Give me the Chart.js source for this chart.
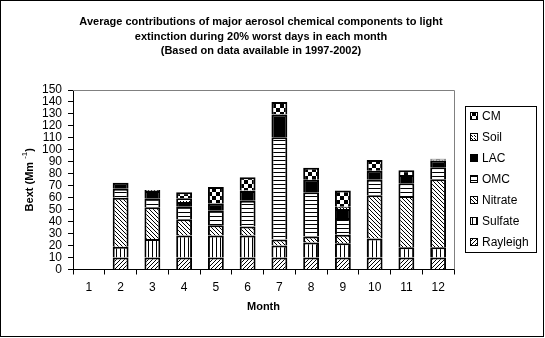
<!DOCTYPE html>
<html>
<head>
<meta charset="utf-8">
<script src="https://cdn.jsdelivr.net/npm/chart.js@4"></script>
<style>
html,body{margin:0;padding:0;background:#fff;}
#wrap{width:545px;height:338px;position:relative;}
</style>
</head>
<body>
<div id="wrap"><canvas id="c" width="545" height="338"></canvas></div>
<script>
const months = ['1','2','3','4','5','6','7','8','9','10','11','12'];
const rayleigh = [null,10,10,10,10,10,10,10,10,10,10,10];
const sulfate  = [null,9,15.5,18.5,18.5,18.5,10,12.5,12,16,8.5,8.5];
const nitrate  = [null,41,26.5,13.5,8.5,7.5,5,5,7,36,43,57];
const omc      = [null,7.5,7.5,10.5,12,21.5,85.5,37,14,13,10.5,10];
const lac      = [null,5,6,4,6,8,19,10.5,7.5,7.5,7,5.5];
const soil     = [null,0,1,3,0.5,0.5,0.5,0,2,0,0,1];
const cm       = [null,0,0,5,13.5,11,10,10,13.5,9,4,0.5];
const yTicks   = [0,10,20,30,40,50,60,70,80,90,100,110,120,130,140,150];
const titleLines = [
  'Average contributions of major aerosol chemical components to light',
  'extinction during 20% worst days in each month',
  '(Based on data available in 1997-2002)'
];

function makePattern(w, h, draw) {
  const c = document.createElement('canvas');
  c.width = w; c.height = h;
  const g = c.getContext('2d');
  g.fillStyle = '#fff'; g.fillRect(0, 0, w, h);
  g.fillStyle = '#000';
  draw(g, w, h);
  return g.createPattern(c, 'repeat');
}
const pRayleigh = makePattern(4, 4, (g) => { for (let i = 0; i < 4; i++) g.fillRect(i, 3 - i, 1, 1); });
const pNitrate  = makePattern(4, 4, (g) => { for (let i = 0; i < 4; i++) g.fillRect(i, i, 1, 1); });
const pSulfate  = makePattern(4, 1, (g) => { g.fillRect(0, 0, 1, 1); });
const pOMC      = makePattern(1, 4, (g) => { g.fillRect(0, 0, 1, 1); });
const pSoil     = makePattern(3, 3, (g) => { g.fillRect(1, 1, 1, 1); g.fillRect(0, 0, 1, 1); });
const pCM       = makePattern(8, 8, (g) => { g.fillRect(0, 0, 4, 4); g.fillRect(4, 4, 4, 4); });

function ds(label, data, bg) {
  return { label, data, backgroundColor: bg, borderColor: '#000', borderWidth: 2,
           borderSkipped: 'start', barPercentage: 0.5, categoryPercentage: 1 };
}

const FONT = '"Liberation Sans", Arial, sans-serif';

const decor = {
  id: 'decor',
  beforeDatasetsDraw(chart) {
    const { ctx, chartArea: a } = chart;
    ctx.save();
    ctx.strokeStyle = '#808080';
    ctx.lineWidth = 1;
    ctx.beginPath();
    ctx.moveTo(a.left, Math.round(a.top) + 0.5);
    ctx.lineTo(Math.round(a.right) + 0.5, Math.round(a.top) + 0.5);
    ctx.lineTo(Math.round(a.right) + 0.5, a.bottom);
    ctx.stroke();
    ctx.restore();
  },
  afterDraw(chart) {
    const { ctx, chartArea: a } = chart;
    ctx.save();
    // outer frame
    ctx.strokeStyle = '#000';
    ctx.lineWidth = 1;
    ctx.strokeRect(0.5, 0.5, 543, 336);
    // title
    ctx.fillStyle = '#000';
    ctx.font = 'bold 11px ' + FONT;
    ctx.textAlign = 'center';
    ctx.textBaseline = 'middle';
    titleLines.forEach((t, i) => ctx.fillText(t, 261, 22 + i * 14.5));
    // x title
    ctx.fillText('Month', (a.left + a.right) / 2, 307);
    // y title with superscript
    ctx.save();
    ctx.translate(30, (a.top + a.bottom) / 2);
    ctx.rotate(-Math.PI / 2);
    const main = 'Bext (Mm ';
    const sup = '-1';
    const end = ')';
    ctx.font = 'bold 11px ' + FONT;
    const wMain = ctx.measureText(main).width;
    const wEnd = ctx.measureText(end).width;
    ctx.font = '8px ' + FONT;
    const wSup = ctx.measureText(sup).width;
    const total = wMain + wSup + wEnd;
    let x = -total / 2;
    ctx.textAlign = 'left';
    ctx.font = 'bold 11px ' + FONT;
    ctx.fillText(main, x, 0); x += wMain;
    ctx.font = '8px ' + FONT;
    ctx.fillText(sup, x, -5); x += wSup;
    ctx.font = 'bold 11px ' + FONT;
    ctx.fillText(end, x, 0);
    ctx.restore();
    // legend
    ctx.strokeStyle = '#000';
    ctx.strokeRect(465.5, 106.5, 71, 146);
    const dsets = chart.data.datasets.slice().reverse();
    ctx.font = '12px ' + FONT;
    ctx.textAlign = 'left';
    ctx.textBaseline = 'middle';
    dsets.forEach((d, i) => {
      const cy = 116 + i * 21;
      ctx.fillStyle = d.backgroundColor;
      ctx.fillRect(470, cy - 4, 8, 8);
      ctx.strokeRect(470.5, cy - 3.5, 7, 7);
      ctx.fillStyle = '#000';
      ctx.fillText(d.label, 482, cy + 0.5);
    });
    ctx.restore();
  }
};

new Chart(document.getElementById('c'), {
  type: 'bar',
  data: {
    labels: months,
    datasets: [
      ds('Rayleigh', rayleigh, pRayleigh),
      ds('Sulfate', sulfate, pSulfate),
      ds('Nitrate', nitrate, pNitrate),
      ds('OMC', omc, pOMC),
      ds('LAC', lac, '#000'),
      ds('Soil', soil, pSoil),
      ds('CM', cm, pCM)
    ]
  },
  options: {
    responsive: false,
    animation: false,
    devicePixelRatio: 1,
    layout: { padding: { left: 0, top: 90, right: 91, bottom: 0 } },
    plugins: { legend: { display: false }, title: { display: false }, tooltip: { enabled: false } },
    scales: {
      x: {
        stacked: true,
        grid: { drawOnChartArea: false, drawTicks: true, tickLength: 5, color: '#000', offset: true },
        border: { color: '#000', width: 1 },
        ticks: { color: '#000', font: { family: FONT, size: 12 }, padding: 6, maxRotation: 0, autoSkip: false },
        afterFit(s) { s.height = 68.5; }
      },
      y: {
        stacked: true,
        min: 0, max: 150,
        afterBuildTicks(s) { s.ticks = yTicks.map(v => ({ value: v })); },
        grid: { drawOnChartArea: false, drawTicks: true, tickLength: 5, color: '#000' },
        border: { color: '#000', width: 1 },
        ticks: { color: '#000', font: { family: FONT, size: 12 }, padding: 6, autoSkip: false },
        afterFit(s) { s.width = 73; }
      }
    }
  },
  plugins: [decor]
});
</script>
</body>
</html>
